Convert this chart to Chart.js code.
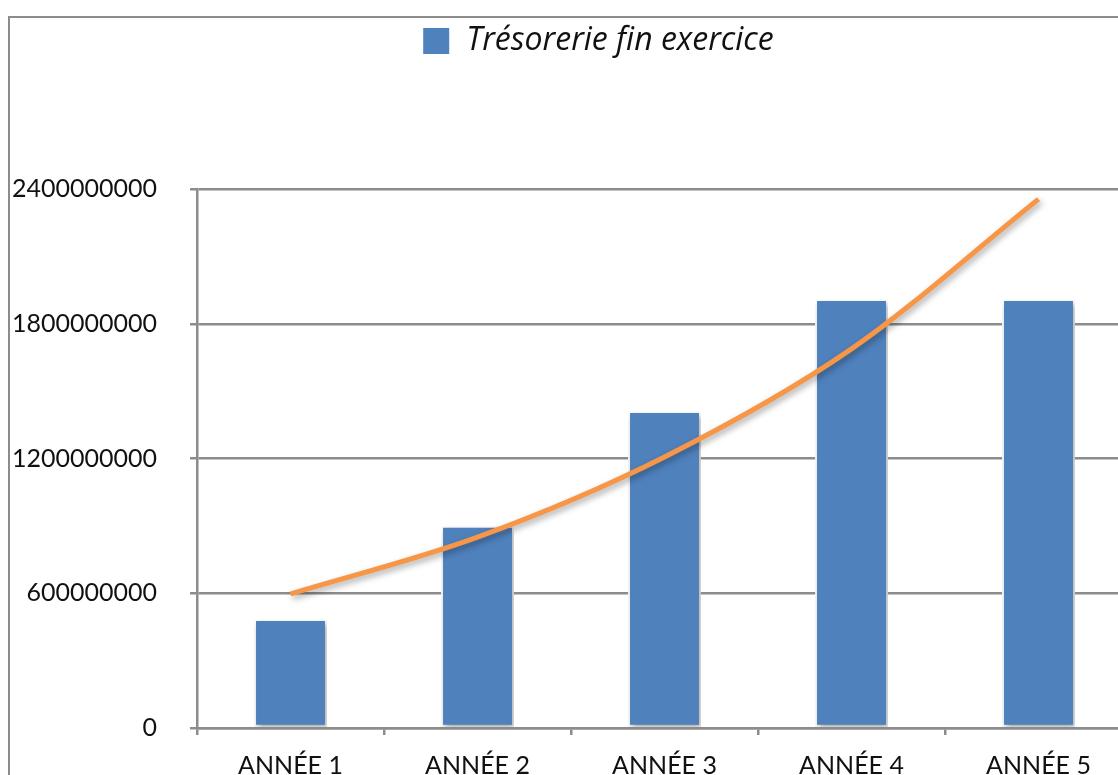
<!DOCTYPE html>
<html>
<head>
<meta charset="utf-8">
<script src="https://cdn.jsdelivr.net/npm/chart.js@4/dist/chart.umd.min.js"></script>
<style>
  html, body { margin: 0; padding: 0; background: #fff; overflow: hidden; }
  #frame { position: absolute; left: 8px; top: 16px; width: 1200px; height: 800px;
           border-left: 2px solid #8c8c8c; border-top: 2px solid #8c8c8c; }
  #wrap { position: absolute; left: 0; top: 0; width: 1136px; height: 800px; }
</style>
</head>
<body>
<div id="frame"></div>
<div id="wrap"><canvas id="chart" width="1136" height="800"></canvas></div>
<script>
const labels = ["ANNÉE 1", "ANNÉE 2", "ANNÉE 3", "ANNÉE 4", "ANNÉE 5"];
const tresorerie = [485000000, 901000000, 1411000000, 1910000000, 1910000000];
const tendance = [597000000, 850000000, 1207000000, 1688000000, 2355000000];
const yTicks = [0, 600000000, 1200000000, 1800000000, 2400000000];

const gridColor = "#8c8c8c";
const fontFamily = "Lato, 'Open Sans', sans-serif";

// soft shadow under bars and the trend line
const shadowPlugin = {
  id: "shadow",
  beforeDatasetsDraw(chart) {
    const ctx = chart.ctx;
    ctx.save();
    ctx.shadowColor = "rgba(0,0,0,0.35)";
    ctx.shadowBlur = 6;
    ctx.shadowOffsetX = 2;
    ctx.shadowOffsetY = 3;
  },
  afterDatasetsDraw(chart) {
    chart.ctx.restore();
  }
};

// legend sits above a tall empty band and a bit right of centre
const legendSpace = {
  id: "legendSpace",
  beforeInit(chart) {
    const fit = chart.legend.fit;
    chart.legend.fit = function () {
      fit.bind(chart.legend)();
      this.height = 189;
    };
  },
  afterLayout(chart) {
    chart.legend.left += 32;
    chart.legend.right += 32;
  }
};

new Chart(document.getElementById("chart"), {
  type: "bar",
  data: {
    labels: labels,
    datasets: [
      {
        type: "line",
        label: "Tendance",
        data: tendance,
        borderColor: "#F79646",
        borderWidth: 5,
        pointRadius: 0,
        cubicInterpolationMode: "monotone",
        order: 0
      },
      {
        label: "Trésorerie fin exercice",
        data: tresorerie,
        backgroundColor: "#4F81BD",
        borderColor: "#ffffff",
        borderWidth: 2,
        borderSkipped: false,
        categoryPercentage: 1,
        barPercentage: 0.39,
        order: 1
      }
    ]
  },
  options: {
    responsive: false,
    animation: false,
    layout: { padding: { left: 0, right: 4, top: 0, bottom: 0 } },
    plugins: {
      tooltip: { enabled: false },
      legend: {
        position: "top",
        labels: {
          filter: item => item.text !== "Tendance",
          boxWidth: 28,
          boxHeight: 28,
          padding: 25,
          color: "#111",
          font: { family: "'Open Sans', sans-serif", size: 32, style: "italic" }
        }
      }
    },
    scales: {
      x: {
        afterFit: scale => { scale.height = 72; },
        grid: {
          drawOnChartArea: false,
          drawTicks: true,
          tickLength: 7,
          color: gridColor,
          lineWidth: 2.5
        },
        border: { display: true, color: gridColor, width: 2.5 },
        ticks: {
          color: "#111",
          padding: 16,
          font: { family: fontFamily, size: 25 }
        }
      },
      y: {
        min: 0,
        max: 2400000000,
        afterFit: scale => { scale.width = 197; },
        afterBuildTicks: scale => { scale.ticks = yTicks.map(v => ({ value: v })); },
        grid: {
          color: gridColor,
          lineWidth: 2.5,
          tickLength: 7
        },
        border: { display: true, color: gridColor, width: 2.5 },
        ticks: {
          color: "#111",
          padding: 33,
          callback: v => String(v),
          font: { family: fontFamily, size: 25 }
        }
      }
    }
  },
  plugins: [shadowPlugin, legendSpace]
});
</script>
</body>
</html>
